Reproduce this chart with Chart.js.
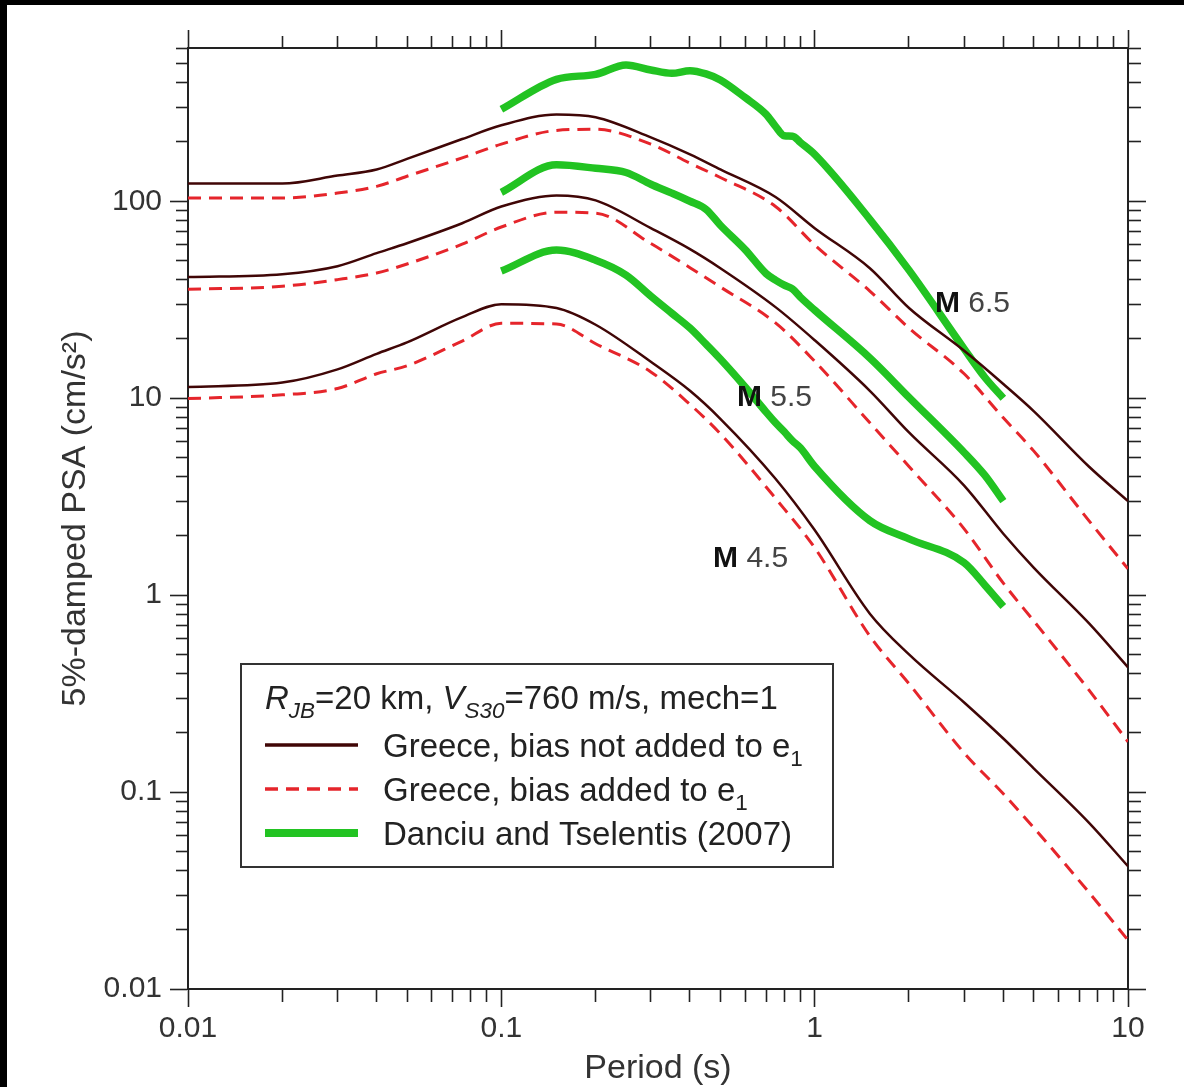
<!DOCTYPE html>
<html>
<head>
<meta charset="utf-8">
<title>5%-damped PSA vs period</title>
<script src="https://cdn.jsdelivr.net/npm/chart.js@4.4.1/dist/chart.umd.min.js"></script>
<style>
    html, body { margin: 0; padding: 0; background: #000; }
    body { width: 1184px; height: 1087px; overflow: hidden; position: relative; }
    #wrap { position: absolute; left: 7px; top: 5px; width: 1177px; height: 1082px; background: #fff; }
</style>
</head>
<body>
<div id="wrap"><canvas id="psaChart" width="1177" height="1082"></canvas></div>
<script>
// PSA spectra: Greece-adjusted model vs Danciu and Tselentis (2007)

// Periods (s) used for the Greece curves
const periods = [0.01, 0.02, 0.03, 0.04, 0.05, 0.075, 0.1, 0.15, 0.2, 0.3, 0.4, 0.5, 0.75, 1, 1.5, 2, 3, 4, 5, 7.5, 10];

// Greece, bias not added to e1 (cm/s^2)
const m65NoBias = [123, 123, 135, 145, 164, 207, 243, 276, 267, 211, 173, 145, 105, 73, 45.7, 28.7, 17.4, 11.8, 8.6, 4.5, 3.0];
const m55NoBias = [41.2, 42.6, 46.8, 54.5, 61.2, 77.3, 94, 107, 101, 73, 57.1, 45.7, 29, 19.7, 10.9, 6.7, 3.6, 2.05, 1.38, 0.72, 0.43];
const m45NoBias = [11.4, 12.0, 14.0, 16.8, 19.2, 25.8, 30, 28.7, 23.6, 15.3, 10.9, 7.86, 3.9, 2.14, 0.805, 0.50, 0.285, 0.187, 0.132, 0.070, 0.042];

// Greece, bias added to e1 (cm/s^2)
const m65Bias = [104, 104, 110, 119, 134, 166, 195, 229, 232, 195, 156, 132, 94, 60, 35, 22.7, 13.3, 7.95, 5.4, 2.39, 1.36];
const m55Bias = [35.7, 37, 40, 43.2, 48, 60.5, 74, 88, 87, 61, 46, 36.7, 24.1, 15.4, 7.5, 4.5, 2.17, 1.15, 0.74, 0.33, 0.18];
const m45Bias = [9.95, 10.4, 11.2, 13.3, 14.6, 19.5, 24, 23.8, 18.9, 13.6, 9.3, 6.6, 3.1, 1.74, 0.62, 0.355, 0.158, 0.098, 0.066, 0.031, 0.0177];

// Danciu and Tselentis (2007)
const dtPeriods = [0.1, 0.15, 0.2, 0.25, 0.3, 0.35, 0.4, 0.45, 0.5, 0.6, 0.7, 0.75, 0.8, 0.85, 0.9, 1, 1.5, 2, 3, 3.5, 4];
const m65Dt = [293, 416, 441, 492, 464, 446, 460, 443, 413, 336, 276, 240, 215, 214, 199, 173, 81, 44.7, 17.8, 12.7, 10];
const m55Dt = [111, 153, 147, 140, 122, 110, 100, 91, 75.5, 56.8, 42.9, 39.8, 37.5, 35.8, 32.6, 28, 16, 10.1, 5.3, 4.04, 3.0];
const m45Dt = [44.2, 56.5, 50.2, 42.2, 33, 27, 22.7, 18.8, 15.8, 11.4, 8.5, 7.5, 6.75, 6.07, 5.6, 4.5, 2.39, 1.93, 1.46, 1.12, 0.875];

// Magnitude labels and where they sit (period, PSA)
const magnitudes = ['6.5', '5.5', '4.5'];
const magLabelPeriod = [2.42, 0.565, 0.474];
const magLabelPsa = [30, 10, 1.53];

// Axis ranges
const xRange = [0.01, 10];
const yRange = [0.01, 600];

const FONT = "'Liberation Sans', Arial, Helvetica, sans-serif";
const TEXT = '#333';
const AXIS = '#222';

const solidStyle = { color: '#400606', width: 2.5, dash: [], legendWidth: 3.5 };
const dashedStyle = { color: '#e5252b', width: 3, dash: [13, 8], legendWidth: 3.5 };
const greenStyle = { color: '#22c322', width: 7.5, dash: [], legendWidth: 8 };

function pairs(xs, ys) {
    return xs.map((x, i) => ({ x: x, y: ys[i] }));
}

function lineSet(label, xs, ys, style) {
    return {
        label: label,
        data: pairs(xs, ys),
        borderColor: style.color,
        borderWidth: style.width,
        borderDash: style.dash,
        pointRadius: 0,
        fill: false,
        cubicInterpolationMode: 'monotone'
    };
}

// decade ticks 1..9 x 10^n, flagged major on the powers of ten
function logTicks(scale) {
    const ticks = [];
    const lo = Math.floor(Math.log10(scale.min) + 1e-9);
    const hi = Math.ceil(Math.log10(scale.max) - 1e-9);
    for (let e = lo; e <= hi; e++) {
        for (let m = 1; m <= 9; m++) {
            const v = parseFloat((m * Math.pow(10, e)).toPrecision(6));
            if (v >= scale.min * 0.999 && v <= scale.max * 1.001) {
                ticks.push({ value: v, major: m === 1 });
            }
        }
    }
    scale.ticks = ticks;
}

// minor ticks are 12px, major 18px: the tick line is cut with a dash
function tickGrid(pos) {
    const fromOuter = pos === 'left' || pos === 'top';
    return {
        drawOnChartArea: false,
        drawTicks: true,
        tickLength: 18,
        tickWidth: 1.6,
        tickColor: AXIS,
        tickBorderDash: ctx => (ctx.tick && ctx.tick.major) ? [] : (fromOuter ? [12, 6] : [12, 60]),
        tickBorderDashOffset: ctx => (ctx.tick && ctx.tick.major) ? 0 : (fromOuter ? 12 : 0)
    };
}

function majorLabel(value, index, ticks) {
    return ticks[index] && ticks[index].major ? String(value) : '';
}

function logAxis(pos, range, size, extra) {
    const horizontal = pos === 'top' || pos === 'bottom';
    return Object.assign({
        type: 'logarithmic',
        position: pos,
        min: range[0],
        max: range[1],
        border: { display: true, color: AXIS, width: 2 },
        grid: tickGrid(pos),
        afterBuildTicks: logTicks,
        afterFit: scale => {
            if (horizontal) scale.height = size; else scale.width = size;
        }
    }, extra);
}

// M 6.5 style labels next to the curves
const magLabelPlugin = {
    id: 'magLabels',
    afterDatasetsDraw(chart) {
        const ctx = chart.ctx;
        const xs = chart.scales.x, ys = chart.scales.y;
        ctx.save();
        ctx.textBaseline = 'middle';
        ctx.textAlign = 'left';
        magnitudes.forEach((mag, i) => {
            const px = xs.getPixelForValue(magLabelPeriod[i]);
            const py = ys.getPixelForValue(magLabelPsa[i]);
            ctx.font = 'bold 30px ' + FONT;
            ctx.fillStyle = '#111';
            ctx.fillText('M', px, py);
            const w = ctx.measureText('M').width;
            ctx.font = '30px ' + FONT;
            ctx.fillStyle = '#444';
            ctx.fillText(' ' + mag, px + w, py);
        });
        ctx.restore();
    }
};

// text with italic / subscript parts
function drawRich(ctx, parts, x, y, size) {
    parts.forEach(p => {
        const s = p.sub ? size * 0.68 : size;
        ctx.font = (p.italic ? 'italic ' : '') + s + 'px ' + FONT;
        ctx.fillText(p.t, x, y + (p.sub ? size * 0.28 : 0));
        x += ctx.measureText(p.t).width;
    });
}

const legendTitle = [
    { t: 'R', italic: true }, { t: 'JB', italic: true, sub: true }, { t: '=20 km, ' },
    { t: 'V', italic: true }, { t: 'S30', italic: true, sub: true }, { t: '=760 m/s, mech=1' }
];
const legendEntries = [
    { style: solidStyle, parts: [{ t: 'Greece, bias not added to e' }, { t: '1', sub: true }] },
    { style: dashedStyle, parts: [{ t: 'Greece, bias added to e' }, { t: '1', sub: true }] },
    { style: greenStyle, parts: [{ t: 'Danciu and Tselentis (2007)' }] }
];

const legendPlugin = {
    id: 'boxLegend',
    afterDraw(chart) {
        const ctx = chart.ctx;
        const area = chart.chartArea;
        const bx = area.left + 53, by = area.top + 616, bw = 592, bh = 203;
        ctx.save();
        ctx.fillStyle = '#fff';
        ctx.fillRect(bx, by, bw, bh);
        ctx.strokeStyle = '#333';
        ctx.lineWidth = 2;
        ctx.strokeRect(bx, by, bw, bh);

        ctx.fillStyle = '#222';
        ctx.textBaseline = 'alphabetic';
        ctx.textAlign = 'left';
        drawRich(ctx, legendTitle, bx + 24, by + 45, 33);

        legendEntries.forEach((entry, i) => {
            const cy = by + 81 + i * 44;
            ctx.beginPath();
            ctx.strokeStyle = entry.style.color;
            ctx.lineWidth = entry.style.legendWidth;
            ctx.setLineDash(entry.style.dash);
            ctx.moveTo(bx + 24, cy);
            ctx.lineTo(bx + 117, cy);
            ctx.stroke();
            ctx.setLineDash([]);
            ctx.fillStyle = '#222';
            drawRich(ctx, entry.parts, bx + 142, cy + 11.5, 33);
        });
        ctx.restore();
    }
};

document.addEventListener('DOMContentLoaded', function() {
    const canvas = document.getElementById('psaChart');

    const datasets = [
        lineSet('M6.5 no bias', periods, m65NoBias, solidStyle),
        lineSet('M5.5 no bias', periods, m55NoBias, solidStyle),
        lineSet('M4.5 no bias', periods, m45NoBias, solidStyle),
        lineSet('M6.5 bias', periods, m65Bias, dashedStyle),
        lineSet('M5.5 bias', periods, m55Bias, dashedStyle),
        lineSet('M4.5 bias', periods, m45Bias, dashedStyle),
        lineSet('M6.5 D&T', dtPeriods, m65Dt, greenStyle),
        lineSet('M5.5 D&T', dtPeriods, m55Dt, greenStyle),
        lineSet('M4.5 D&T', dtPeriods, m45Dt, greenStyle)
    ];

    const tickFont = { family: FONT, size: 30 };
    const titleFont = { family: FONT, size: 34, lineHeight: 1.1 };

    new Chart(canvas.getContext('2d'), {
        type: 'line',
        data: { datasets: datasets },
        options: {
            responsive: false,
            animation: false,
            devicePixelRatio: 1,
            layout: { padding: 0 },
            plugins: {
                legend: { display: false },
                tooltip: { enabled: false }
            },
            scales: {
                x: logAxis('bottom', xRange, 98, {
                    ticks: { autoSkip: false, maxRotation: 0, padding: 4, color: TEXT, font: tickFont, callback: majorLabel },
                    title: { display: true, text: 'Period (s)', color: TEXT, font: titleFont, padding: { top: 0, bottom: 0 } }
                }),
                x2: logAxis('top', xRange, 43, { ticks: { display: false } }),
                y: logAxis('left', yRange, 181, {
                    ticks: { autoSkip: false, padding: 8, color: TEXT, font: tickFont, callback: majorLabel },
                    title: { display: true, text: '5%-damped PSA (cm/s\u00B2)', color: TEXT, font: titleFont, padding: { top: 50, bottom: 0 } }
                }),
                y2: logAxis('right', yRange, 56, { ticks: { display: false } })
            }
        },
        plugins: [magLabelPlugin, legendPlugin]
    });
});
</script>
</body>
</html>
